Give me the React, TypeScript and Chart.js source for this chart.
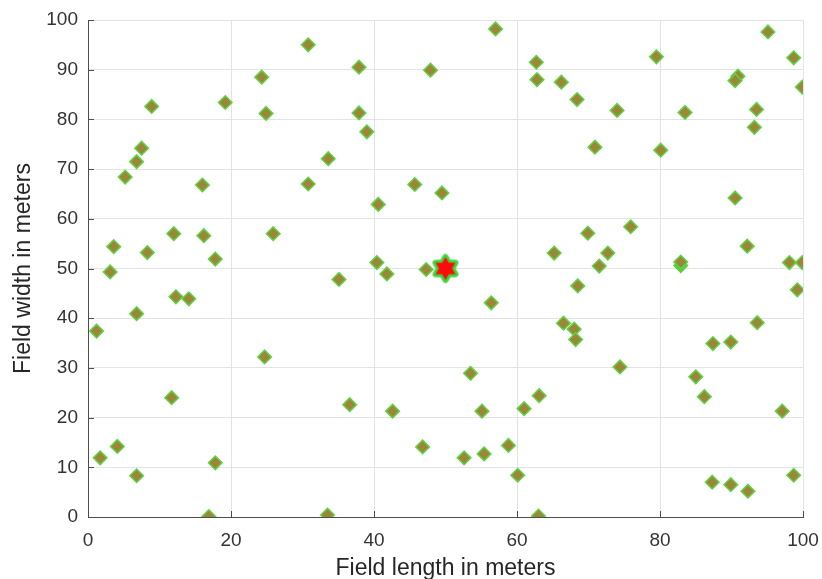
import React, { useEffect, useRef } from "react";
import { Chart, registerables } from "chart.js";

Chart.register(...registerables);

// Sensor node positions (field length, field width) in meters
const nodeX = [
  30.8, 24.3, 8.9, 19.2, 24.9, 7.5, 6.8, 5.2, 16.0, 30.8,
  33.6, 12.0, 16.2, 25.9, 3.6, 8.3, 17.8, 3.1, 12.3, 14.1,
  6.8, 1.2, 24.7, 11.7, 4.1, 1.7, 6.8, 17.8, 16.9, 33.5,
  57.0, 37.9, 47.9, 62.7, 62.8, 66.2, 37.9, 39.0, 45.7, 49.5,
  40.6, 65.2, 40.4, 41.8, 35.1, 47.3, 56.4, 66.5, 53.5, 36.6,
  42.6, 55.1, 61.0, 63.1, 46.8, 52.6, 55.4, 58.8, 60.1, 63.0,
  95.1, 79.5, 98.7, 90.9, 90.5, 99.9, 68.4, 74.0, 83.5, 93.5,
  93.2, 70.9, 80.1, 90.5, 75.9, 69.9, 92.2, 72.7, 71.5, 82.9,
  98.1, 99.9, 99.2, 68.5, 68.0, 68.2, 93.6, 87.4, 89.9, 74.4,
  85.0, 86.2, 97.1, 87.3, 89.9, 92.3, 98.7,
];
const nodeY = [
  95.0, 88.5, 82.6, 83.4, 81.2, 74.2, 71.5, 68.4, 66.8, 67.0,
  72.1, 57.0, 56.6, 57.0, 54.4, 53.2, 51.9, 49.3, 44.3, 43.9,
  40.9, 37.4, 32.2, 24.0, 14.2, 11.9, 8.3, 10.9, 0.1, 0.4,
  98.2, 90.5, 89.9, 91.5, 88.0, 87.5, 81.3, 77.5, 66.9, 65.2,
  62.9, 53.1, 51.2, 48.9, 47.8, 49.8, 43.1, 39.0, 28.9, 22.6,
  21.3, 21.3, 21.8, 24.4, 14.1, 11.9, 12.7, 14.4, 8.4, 0.2,
  97.6, 92.6, 92.4, 88.7, 87.8, 86.5, 84.0, 81.8, 81.4, 82.0,
  78.4, 74.4, 73.8, 64.2, 58.4, 57.1, 54.5, 53.1, 50.5, 51.3,
  51.2, 51.2, 45.7, 46.5, 37.8, 35.7, 39.1, 34.9, 35.2, 30.2,
  28.2, 24.2, 21.3, 7.0, 6.5, 5.2, 8.4,
];
// Highlighted node
const highlightX = [82.9];
const highlightY = [50.6];
// Base station
const baseX = [50];
const baseY = [50];

const xTickMin = 0;
const xTickMax = 100;
const xTickStep = 20;
const yTickMin = 0;
const yTickMax = 100;
const yTickStep = 10;

const xTitle = "Field length in meters";
const yTitle = "Field width in meters";

const FONT = "'Liberation Sans', Arial, sans-serif";
const AXIS_COLOR = "#4d4d4d";
const TEXT_COLOR = "#333333";
const GRID_COLOR = "#e3e3e3";

function makeStar(): HTMLCanvasElement {
  const c = document.createElement("canvas");
  c.width = 34;
  c.height = 34;
  const g = c.getContext("2d")!;
  const cx = 17, cy = 17, R = 11.5, r = R / Math.sqrt(3);
  g.beginPath();
  for (let i = 0; i < 12; i++) {
    const a = -Math.PI / 2 + (i * Math.PI) / 6;
    const rad = i % 2 === 0 ? R : r;
    const px = cx + rad * Math.cos(a);
    const py = cy + rad * Math.sin(a);
    if (i === 0) g.moveTo(px, py);
    else g.lineTo(px, py);
  }
  g.closePath();
  g.lineJoin = "round";
  g.lineWidth = 6;
  g.strokeStyle = "#3fd63a";
  g.stroke();
  g.fillStyle = "#ff0a0a";
  g.fill();
  return c;
}

const inwardTicks = {
  id: "inwardTicks",
  beforeDatasetsDraw(chart: any) {
    const { ctx, chartArea, scales } = chart;
    ctx.save();
    ctx.strokeStyle = AXIS_COLOR;
    ctx.lineWidth = 1;
    const len = 6;
    scales.x.ticks.forEach((t: any) => {
      const px = Math.round(scales.x.getPixelForValue(t.value)) + 0.5;
      ctx.beginPath();
      ctx.moveTo(px, chartArea.bottom);
      ctx.lineTo(px, chartArea.bottom - len);
      ctx.stroke();
    });
    scales.y.ticks.forEach((t: any) => {
      const py = Math.round(scales.y.getPixelForValue(t.value)) + 0.5;
      ctx.beginPath();
      ctx.moveTo(chartArea.left, py);
      ctx.lineTo(chartArea.left + len, py);
      ctx.stroke();
    });
    ctx.restore();
  },
};

export default function App() {
  const ref = useRef<HTMLCanvasElement | null>(null);
  useEffect(() => {
    if (!ref.current) return;
    const star = makeStar();
    const chart = new Chart(ref.current, {
      type: "scatter",
      data: {
        datasets: [
          {
            label: "Base station",
            data: baseX.map((x, i) => ({ x, y: baseY[i] })),
            pointStyle: star as any,
            pointRadius: 12,
          },
          {
            label: "Nodes",
            data: nodeX.map((x, i) => ({ x, y: nodeY[i] })),
            pointStyle: "rectRot",
            pointRadius: 6.8,
            backgroundColor: "#9c8638",
            borderColor: "#5ed444",
            borderWidth: 1.5,
          },
          {
            label: "Highlighted",
            data: highlightX.map((x, i) => ({ x, y: highlightY[i] })),
            pointStyle: "rectRot",
            pointRadius: 6.8,
            backgroundColor: "#4cc836",
            borderColor: "#5ed444",
            borderWidth: 1.5,
          },
        ],
      },
      options: {
        animation: false,
        responsive: true,
        maintainAspectRatio: false,
        events: [],
        layout: { padding: { left: 0, right: 19, top: 20, bottom: 0 } },
        plugins: {
          legend: { display: false },
          tooltip: { enabled: false },
        },
        scales: {
          x: {
            type: "linear",
            min: xTickMin,
            max: xTickMax,
            afterFit: (s: any) => {
              s.height = 62;
              s.paddingLeft = 0;
              s.paddingRight = 0;
            },
            ticks: {
              stepSize: xTickStep,
              padding: 12,
              color: TEXT_COLOR,
              font: { family: FONT, size: 19 },
              maxRotation: 0,
            },
            grid: { color: GRID_COLOR, lineWidth: 1, drawTicks: false },
            border: { display: true, color: AXIS_COLOR, width: 1 },
            title: {
              display: true,
              text: xTitle,
              color: "#262626",
              font: { family: FONT, size: 23 },
              padding: { top: 0, bottom: -3 },
            },
          },
          y: {
            type: "linear",
            min: yTickMin,
            max: yTickMax,
            afterFit: (s: any) => {
              s.width = 88;
              s.paddingTop = 0;
              s.paddingBottom = 0;
            },
            ticks: {
              stepSize: yTickStep,
              padding: 10,
              color: TEXT_COLOR,
              font: { family: FONT, size: 19 },
            },
            grid: { color: GRID_COLOR, lineWidth: 1, drawTicks: false },
            border: { display: true, color: AXIS_COLOR, width: 1 },
            title: {
              display: true,
              text: yTitle,
              color: "#262626",
              font: { family: FONT, size: 23 },
              padding: { top: 10, bottom: 0 },
            },
          },
        },
      },
      plugins: [inwardTicks],
    });
    return () => chart.destroy();
  }, []);
  return (
    <div style={{ position: "fixed", left: 0, top: 0, width: 822, height: 579, background: "#fff" }}>
      <canvas ref={ref} />
    </div>
  );
}
